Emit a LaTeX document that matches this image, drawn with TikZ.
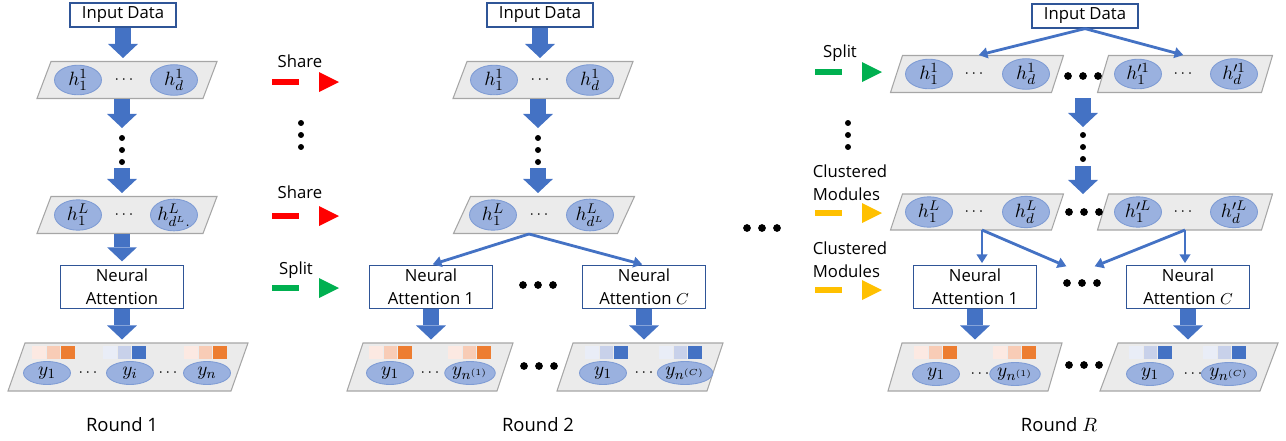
\documentclass[tikz,border=0pt]{standalone}
\usepackage{fontspec}
\setmainfont{Open Sans}
\usetikzlibrary{arrows.meta,shapes.geometric}

\definecolor{arrowblue}{HTML}{4472C4}
\definecolor{boxblue}{HTML}{2F5597}
\definecolor{nodefill}{HTML}{9AB1DF}
\definecolor{nodeline}{HTML}{7F9CD4}
\definecolor{layerfill}{HTML}{EBEBEB}
\definecolor{layerline}{HTML}{A6A6A6}
\definecolor{shareRed}{HTML}{FF0000}
\definecolor{splitGreen}{HTML}{00B050}
\definecolor{clusterGold}{HTML}{FFC000}
\definecolor{or1}{HTML}{FCE9E2}
\definecolor{or2}{HTML}{F8CCB6}
\definecolor{or3}{HTML}{ED7D31}
\definecolor{bl1}{HTML}{E9EDF7}
\definecolor{bl2}{HTML}{C8D1EA}
\definecolor{bl3}{HTML}{4472C4}

% slanted layer: name, centre x, centre y, width, height, slant
\newcommand{\layer}[6]{%
  \draw[layer] (#2-#4/2+#6/2,#3-#5/2) -- (#2+#4/2+#6/2,#3-#5/2)
    -- (#2+#4/2-#6/2,#3+#5/2) -- (#2-#4/2-#6/2,#3+#5/2) -- cycle;
  \coordinate (#1) at (#2,#3);
  \coordinate (#1-n) at (#2,#3-#5/2);
  \coordinate (#1-s) at (#2,#3+#5/2);
}
% three score squares: left x, top y, colour prefix
\newcommand{\scores}[3]{%
  \foreach \k in {1,2,3}
    \fill[#3\k] ({#1+(\k-1)*14.5},#2) rectangle ++(13.5,13);
}
% dash and triangle: left x, y, colour
\newcommand{\flowmark}[3]{%
  \fill[#3] (#1,#2-3) rectangle ++(27,6);
  \fill[#3] (#1+47,#2-10) -- (#1+67,#2) -- (#1+47,#2+10) -- cycle;
}
% big horizontal dots and small vertical dots
\newcommand{\gapdots}[2]{\foreach \k in {-1,0,1} \fill ({#1+\k*15},#2) circle (2.2pt);}
\newcommand{\vdotsat}[2]{\foreach \k in {-1,0,1} \fill (#1,{#2+\k*12}) circle (1.7pt);}

\begin{document}
\begin{tikzpicture}[x=0.02cm, y=-0.02cm,
    font=\fontsize{9.5}{13}\selectfont,
    box/.style={draw=boxblue, fill=white, line width=0.7pt, align=center, inner sep=1pt},
    inbox/.style={box, minimum width=2.12cm, minimum height=0.48cm},
    attn/.style={box, minimum width=2.46cm, minimum height=0.86cm},
    unit/.style={ellipse, draw=nodeline, fill=nodefill, line width=0.5pt,
        minimum width=0.94cm, minimum height=0.46cm, inner sep=0pt,
        font=\fontsize{11}{13}\selectfont},
    layer/.style={draw=layerline, fill=layerfill, line width=0.6pt},
    flow/.style={draw=arrowblue, line width=9.5pt,
        -{Triangle[width=17pt,length=8pt,line width=0pt]}, shorten >=2pt},
    link/.style={draw=arrowblue, line width=1.6pt,
        -{Triangle[width=6pt,length=5pt]}, shorten >=1pt},
    round/.style={font=\fontsize{10.5}{12}\selectfont}]
  \useasboundingbox (0,0) rectangle (1286,440);

  % round 1
  \node[inbox] (in1) at (123,15) {Input Data};
  \layer{L1a}{127}{80}{166}{37}{14}
  \node[unit] (h1a) at (78,80) {$h^{1}_{1}$};
  \node (d1a) at (124,80) {$\cdots$};
  \node[unit] (h1b) at (174,80) {$h^{1}_{d}$};
  \coordinate (v1top) at (122,128);
  \coordinate (v1bot) at (122,168);
  \draw[flow] (in1.south) -- (in1.south |- L1a-n);
  \draw[flow, shorten >=0pt] (v1top |- L1a-s) -- (v1top);
  \vdotsat{122}{150}
  \layer{L1b}{127}{215}{166}{37}{14}
  \node[unit] (h1c) at (78,215) {$h^{L}_{1}$};
  \node (d1b) at (124,215) {$\cdots$};
  \node[unit] (h1d) at (174,215) {$h^{L}_{d^{L}.}$};
  \draw[flow] (v1bot) -- (v1bot |- L1b-n);
  \node[attn] (na1) at (122,287) {Neural\\Attention};
  \draw[flow] (na1.north |- L1b-s) -- (na1.north);
  \layer{Y1}{128}{367}{223}{48}{17}
  \draw[flow] (na1.south) -- (na1.south |- Y1-n);
  \scores{32}{346}{or}
  \scores{103}{346}{bl}
  \scores{184}{346}{or}
  \node[unit] (y1a) at (47,373) {$y_{1}$};
  \node (d1c) at (88,373) {$\cdots$};
  \node[unit] (y1b) at (130,373) {$y_{i}$};
  \node (d1d) at (168,373) {$\cdots$};
  \node[unit] (y1c) at (207,373) {$y_{n}$};
  \node[round] (r1) at (122,425) {Round 1};

  % passing from round 1 to round 2
  \node (share1) at (300,61) {Share};
  \flowmark{272}{82}{shareRed}
  \vdotsat{301}{135}
  \node (share2) at (300,192) {Share};
  \flowmark{272}{216}{shareRed}
  \node (split2) at (296,270) {Split};
  \flowmark{272}{288}{splitGreen}

  % round 2
  \node[inbox] (in2) at (540,15) {Input Data};
  \layer{L2a}{543}{80}{166}{37}{14}
  \node[unit] (h2a) at (494,80) {$h^{1}_{1}$};
  \node (d2a) at (540,80) {$\cdots$};
  \node[unit] (h2b) at (590,80) {$h^{1}_{d}$};
  \coordinate (v2top) at (538,128);
  \coordinate (v2bot) at (538,168);
  \draw[flow] (in2.south) -- (in2.south |- L2a-n);
  \draw[flow, shorten >=0pt] (v2top |- L2a-s) -- (v2top);
  \vdotsat{538}{150}
  \layer{L2b}{544}{215}{164}{37}{17}
  \node[unit] (h2c) at (493,215) {$h^{L}_{1}$};
  \node (d2b) at (539,215) {$\cdots$};
  \node[unit] (h2d) at (590,215) {$h^{L}_{d^{L}}$};
  \draw[flow] (v2bot) -- (v2bot |- L2b-n);
  \coordinate (fork2) at (529,234);
  \node[attn] (na2a) at (431,287) {Neural\\Attention 1};
  \node[attn] (na2c) at (644,287) {Neural\\Attention $C$};
  \draw[link] (fork2) -- (na2a.north);
  \draw[link] (fork2) -- (na2c.north);
  \gapdots{538}{285}
  \layer{Y2a}{430}{367}{150}{48}{16}
  \layer{Y2c}{640}{367}{150}{48}{16}
  \draw[flow] (na2a.south) -- (na2a.south |- Y2a-n);
  \draw[flow] (na2c.south) -- (na2c.south |- Y2c-n);
  \scores{369}{346}{or}
  \scores{448}{346}{or}
  \scores{585}{346}{bl}
  \scores{659}{346}{bl}
  \node[unit] (y2a) at (390,373) {$y_{1}$};
  \node (d2c) at (430,373) {$\cdots$};
  \node[unit] (y2b) at (470,373) {$y_{n^{(1)}}$};
  \gapdots{539}{366}
  \node[unit] (y2c) at (603,373) {$y_{1}$};
  \node (d2d) at (644,373) {$\cdots$};
  \node[unit] (y2d) at (685,373) {$y_{n^{(C)}}$};
  \node[round] (r2) at (538,425) {Round 2};

  \gapdots{762}{228}

  % passing into round R
  \node (split3) at (840,53) {Split};
  \flowmark{815}{72}{splitGreen}
  \vdotsat{848}{135}
  \node[align=left] (clu1) at (850,183) {Clustered\\Modules};
  \flowmark{815}{213}{clusterGold}
  \node[align=left] (clu2) at (850,260) {Clustered\\Modules};
  \flowmark{815}{290}{clusterGold}

  % round R
  \node[inbox] (in3) at (1085,16) {Input Data};
  \layer{L3a}{977}{74}{161}{37}{12}
  \layer{L3c}{1185}{74}{164}{37}{11}
  \draw[link] (in3.south) -- (L3a-n);
  \draw[link] (in3.south) -- (L3c-n);
  \node[unit] (h3a) at (929,74) {$h^{1}_{1}$};
  \node (d3a) at (974,74) {$\cdots$};
  \node[unit] (h3b) at (1026,74) {$h^{1}_{d}$};
  \gapdots{1083}{76}
  \node[unit] (h3c) at (1138,74) {$h^{\prime 1}_{1}$};
  \node (d3b) at (1183,74) {$\cdots$};
  \node[unit] (h3d) at (1234,74) {$h^{\prime 1}_{d}$};
  \coordinate (v3start) at (1083,98);
  \coordinate (v3top) at (1083,127);
  \coordinate (v3bot) at (1083,166);
  \coordinate (v3end) at (1083,194);
  \draw[flow, shorten >=0pt] (v3start) -- (v3top);
  \vdotsat{1083}{147}
  \draw[flow, shorten >=0pt] (v3bot) -- (v3end);
  \layer{L3b}{977}{212}{161}{36}{12}
  \layer{L3d}{1185}{212}{164}{36}{11}
  \node[unit] (h3e) at (929,212) {$h^{L}_{1}$};
  \node (d3c) at (974,212) {$\cdots$};
  \node[unit] (h3f) at (1026,212) {$h^{L}_{d}$};
  \gapdots{1084}{212}
  \node[unit] (h3g) at (1138,212) {$h^{\prime L}_{1}$};
  \node (d3d) at (1183,212) {$\cdots$};
  \node[unit] (h3h) at (1234,212) {$h^{\prime L}_{d}$};
  \node[attn] (na3a) at (975,287) {Neural\\Attention 1};
  \node[attn] (na3c) at (1188,287) {Neural\\Attention $C$};
  \coordinate (fork3a) at (982,230);
  \coordinate (fork3c) at (1185,230);
  \coordinate (gapA) at (1068,267);
  \coordinate (gapC) at (1093,267);
  \draw[link] (fork3a) -- (fork3a |- na3a.north);
  \draw[link] (fork3a) -- (gapA);
  \draw[link] (fork3c) -- (fork3c |- na3c.north);
  \draw[link] (fork3c) -- (gapC);
  \gapdots{1082}{283}
  \layer{Y3a}{975}{367}{160}{48}{14}
  \layer{Y3c}{1189}{367}{160}{48}{18}
  \draw[flow] (na3a.south) -- (na3a.south |- Y3a-n);
  \draw[flow] (na3c.south) -- (na3c.south |- Y3c-n);
  \scores{914}{346}{or}
  \scores{993}{346}{or}
  \scores{1129}{346}{bl}
  \scores{1203}{346}{bl}
  \node[unit] (y3a) at (936,374) {$y_{1}$};
  \node (d3e) at (980,374) {$\cdots$};
  \node[unit] (y3b) at (1015,374) {$y_{n^{(1)}}$};
  \gapdots{1084}{365}
  \node[unit] (y3c) at (1150,374) {$y_{1}$};
  \node (d3f) at (1193,374) {$\cdots$};
  \node[unit] (y3d) at (1229,374) {$y_{n^{(C)}}$};
  \node[round] (r3) at (1059,425) {Round $R$};
\end{tikzpicture}
\end{document}
